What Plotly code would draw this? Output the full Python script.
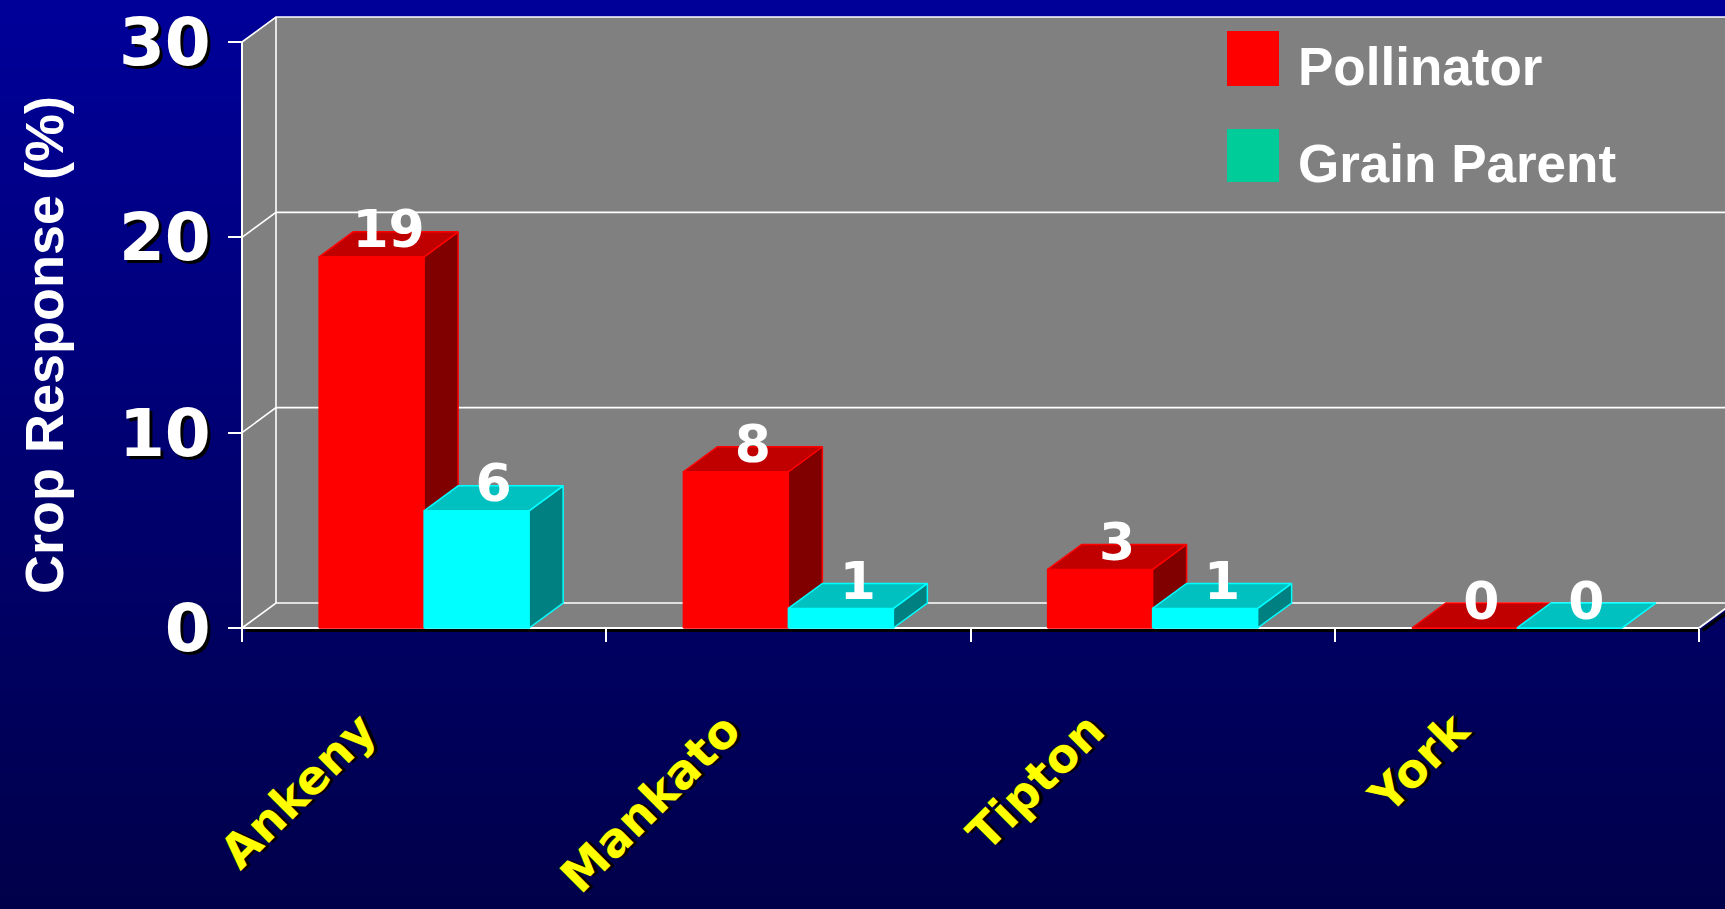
import plotly.graph_objects as go

# ---------------- data ----------------
categories = ["Ankeny", "Mankato", "Tipton", "York"]
pollinator = [19, 8, 3, 0]
grain_parent = [6, 1, 1, 0]
series_names = ["Pollinator", "Grain Parent"]
y_tick_values = [0, 10, 20, 30]

# ---------------- styling / geometry ----------------
W, H = 1725, 909
AX_LEFT, AX_RIGHT = 242, 1699       # pixel x of category axis ends
Y_ZERO, Y_TOP = 628, 42             # pixel y of value 0 and value 30
Y_MAX = 30
n = len(categories)
ppx = (AX_RIGHT - AX_LEFT) / n      # pixels per category unit
ppy = (Y_ZERO - Y_TOP) / Y_MAX      # pixels per value unit
x_range = [-AX_LEFT / ppx, (W - AX_LEFT) / ppx]
y_range = [-(H - Y_ZERO) / ppy, Y_ZERO / ppy]
DX = 34 / ppx                       # depth offset (x) in data units
DY = 25 / ppy                       # depth offset (y) in data units
BAR_W = 105 / ppx

FRONT = ["#FF0000", "#00FFFF"]
TOP = ["#C00000", "#00C0C0"]
SIDE = ["#800000", "#008080"]
LEGEND_COL = ["#FF0000", "#00CC99"]
WALL = "#808080"

fig = go.Figure()


def polys(list_of_pts):
    xs, ys = [], []
    for pts in list_of_pts:
        for (a, b) in pts:
            xs.append(a)
            ys.append(b)
        xs.append(pts[0][0]); ys.append(pts[0][1])
        xs.append(None); ys.append(None)
    return xs, ys


# ---------- walls (back, left side, floor) ----------
xmax_cat = n
wall_pts = [
    [(DX, DY), (xmax_cat + DX, DY), (xmax_cat + DX, Y_MAX + DY), (DX, Y_MAX + DY)],
    [(0, 0), (0, Y_MAX), (DX, Y_MAX + DY), (DX, DY)],
    [(0, 0), (xmax_cat, 0), (xmax_cat + DX, DY), (DX, DY)],
]
wx, wy = polys(wall_pts)
fig.add_trace(go.Scatter(x=wx, y=wy, mode="lines", fill="toself", fillcolor=WALL,
                         line=dict(width=0, color=WALL), hoverinfo="skip"))

# ---------- gridlines on walls ----------
gx, gy = [], []
for v in y_tick_values:
    gx += [0, DX, xmax_cat + DX, None]
    gy += [v, v + DY, v + DY, None]
gx += [DX, DX, None]
gy += [DY, Y_MAX + DY, None]
fig.add_trace(go.Scatter(x=gx, y=gy, mode="lines", line=dict(color="white", width=1.6),
                         hoverinfo="skip"))

# axis shadow + axis lines
sh = 2.5 / ppy
fig.add_trace(go.Scatter(x=[0.01, xmax_cat, None, xmax_cat + 0.01, xmax_cat + DX + 0.01],
                         y=[-sh, -sh, None, -sh, DY - sh], mode="lines",
                         line=dict(color="black", width=3), hoverinfo="skip"))
fig.add_trace(go.Scatter(x=[0, 0, None, 0, xmax_cat, None, xmax_cat, xmax_cat + DX],
                         y=[Y_MAX, 0, None, 0, 0, None, 0, DY], mode="lines",
                         line=dict(color="white", width=2), hoverinfo="skip"))

# ---------- 3D bars ----------
series_vals = [pollinator, grain_parent]
offsets = [-BAR_W, 0.0]
for s, vals in enumerate(series_vals):
    fronts, sides, tops = [], [], []
    for i, v in enumerate(vals):
        x0 = i + 0.5 + offsets[s]
        x1 = x0 + BAR_W
        fronts.append([(x0, 0), (x1, 0), (x1, v), (x0, v)])
        sides.append([(x1, 0), (x1 + DX, DY), (x1 + DX, v + DY), (x1, v)])
        tops.append([(x0, v), (x1, v), (x1 + DX, v + DY), (x0 + DX, v + DY)])
    for pts, fc in [(fronts, FRONT[s]), (sides, SIDE[s]), (tops, TOP[s])]:
        px_, py_ = polys(pts)
        fig.add_trace(go.Scatter(x=px_, y=py_, mode="lines", fill="toself", fillcolor=fc,
                                 line=dict(color=FRONT[s], width=1.5), hoverinfo="skip",
                                 name=series_names[s]))

# ---------- value labels ----------
for s, vals in enumerate(series_vals):
    lx = [i + 0.5 + offsets[s] + BAR_W / 2 + DX / 2 for i in range(n)]
    ly = [v + DY - 2.5 / ppy for v in vals]
    fig.add_trace(go.Scatter(x=lx, y=ly, mode="text", text=[str(v) for v in vals],
                             textposition="middle center",
                             textfont=dict(family="DejaVu Sans", size=52, color="white",
                                           weight="bold"),
                             hoverinfo="skip"))

# invisible trace so the category-label axis is drawn
fig.add_trace(go.Scatter(x=[i + 0.5 for i in range(n)], y=[0] * n, xaxis="x2",
                         mode="markers", marker=dict(opacity=0), hoverinfo="skip"))

# ---------- background gradient (bands) ----------
shapes = []
NB = 80
top_c, bot_c = (0, 0, 153), (0, 0, 74)
for k in range(NB):
    t = k / (NB - 1)
    c = tuple(round(top_c[j] + (bot_c[j] - top_c[j]) * t) for j in range(3))
    shapes.append(dict(type="rect", xref="paper", yref="paper", layer="below",
                       x0=0, x1=1, y0=1 - (k + 1) / NB - 0.002, y1=1 - k / NB,
                       fillcolor="rgb(%d,%d,%d)" % c, line=dict(width=0)))

# ---------- custom legend ----------
sw_x0, sw_x1 = 1227, 1279
sw_y = [(31, 86), (129, 182)]
annotations = []
for s in range(2):
    y0p, y1p = sw_y[s]
    shapes.append(dict(type="rect", xref="paper", yref="paper", layer="above",
                       x0=sw_x0 / W, x1=sw_x1 / W, y0=1 - y1p / H, y1=1 - y0p / H,
                       fillcolor=LEGEND_COL[s], line=dict(width=0)))
    annotations.append(dict(xref="paper", yref="paper", x=1296 / W, y=1 - ((y0p + y1p) / 2 + 8) / H,
                            xanchor="left", yanchor="middle", showarrow=False,
                            text=series_names[s],
                            font=dict(family="Liberation Sans", size=53, color="white",
                                      weight="bold")))

annotations.append(dict(xref="paper", yref="paper", x=44 / W, y=1 - 345 / H,
                        xanchor="center", yanchor="middle", showarrow=False,
                        text="Crop Response (%)", textangle=-90,
                        font=dict(family="Liberation Sans", size=54, color="white",
                                  weight="bold")))

fig.update_layout(
    template="none",
    width=W, height=H,
    margin=dict(l=0, r=0, t=0, b=0, pad=0),
    paper_bgcolor="#000080",
    plot_bgcolor="rgba(0,0,0,0)",
    showlegend=False,
    shapes=shapes,
    annotations=annotations,
    xaxis=dict(range=x_range, domain=[0, 1], anchor="free", position=(H - Y_ZERO) / H,
               tickvals=list(range(n + 1)), ticks="outside", ticklen=13, tickwidth=2,
               tickcolor="white", showticklabels=False, showgrid=False, zeroline=False,
               showline=False, automargin=False, fixedrange=True),
    xaxis2=dict(range=x_range, overlaying="x", anchor="free", position=(H - Y_ZERO) / H,
                side="bottom",
                tickvals=[i + 0.5 for i in range(n)], ticktext=categories, ticks="",
                tickangle=-45, ticklabelshift=-62, ticklabelstandoff=64,
                tickfont=dict(family="DejaVu Sans", size=47, color="#FFFF00", weight="bold",
                              shadow="3px 3px 0px black"),
                showgrid=False, zeroline=False, showline=False, automargin=False),
    yaxis=dict(range=y_range, domain=[0, 1], anchor="free", position=AX_LEFT / W,
               tickvals=y_tick_values, ticks="outside", ticklen=14, tickwidth=2,
               tickcolor="white", ticklabelstandoff=4,
               tickfont=dict(family="DejaVu Sans", size=66, color="white", weight="bold",
                             shadow="3px 3px 0px black"),
               showgrid=False, zeroline=False, showline=False, automargin=False),
)

fig.write_html("out.html")
